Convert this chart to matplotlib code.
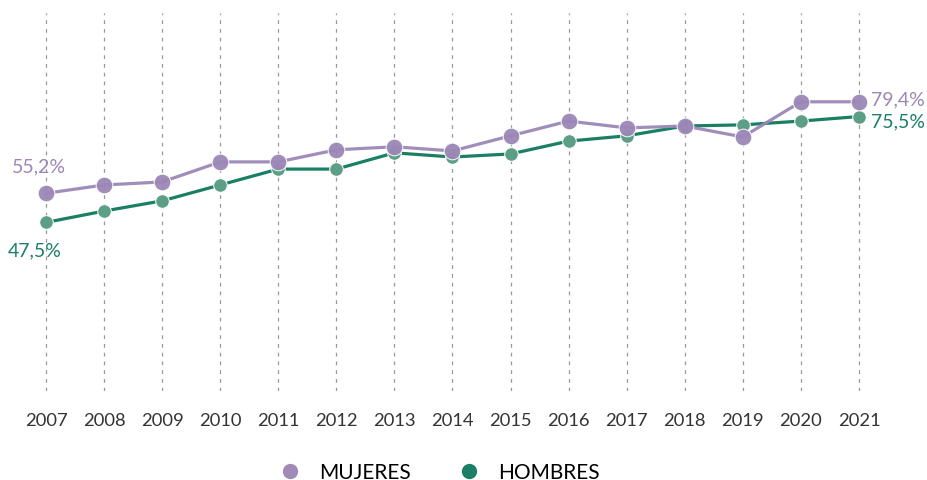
import matplotlib.pyplot as plt
from matplotlib.lines import Line2D

plt.rcParams['font.family'] = ['Lato', 'DejaVu Sans']

# -------------------------------------------------
# data
# -------------------------------------------------
years = [2007, 2008, 2009, 2010, 2011, 2012, 2013, 2014,
         2015, 2016, 2017, 2018, 2019, 2020, 2021]
mujeres = [55.2, 57.4, 58.2, 63.5, 63.5, 66.7, 67.5, 66.4,
           70.4, 74.3, 72.5, 73.0, 70.1, 79.4, 79.4]
hombres = [47.5, 50.5, 53.2, 57.4, 61.6, 61.6, 65.9, 64.8,
           65.6, 69.0, 70.4, 73.0, 73.3, 74.3, 75.5]
series_names = ["MUJERES", "HOMBRES"]

purple = "#9c87b6"
green = "#1b7f65"

fig = plt.figure(figsize=(9.28, 4.81), dpi=100)
ax = fig.add_axes([0.00577, 0.185, 0.9636, 0.786])

ax.plot(years, mujeres, color=purple, lw=2.3, alpha=0.95, zorder=3,
        marker="o", markersize=12, markerfacecolor=purple,
        markeredgecolor="white", markeredgewidth=0.7)
ax.plot(years, hombres, color=green, lw=2.3, zorder=2,
        marker="o", markersize=9.8, markerfacecolor="#5c9f86",
        markeredgecolor="white", markeredgewidth=0.7)

# etiquetas de inicio y fin
def fmt(v):
    return f"{v:.1f}".replace(".", ",") + "%"

lab = dict(textcoords="offset points", va="center", fontsize=14)
ax.annotate(fmt(mujeres[0]), (years[0], mujeres[0]), xytext=(-5, 20),
            ha="center", color=purple, **lab)
ax.annotate(fmt(hombres[0]), (years[0], hombres[0]), xytext=(-8, -20),
            ha="center", color=green, **lab)
ax.annotate(fmt(mujeres[-1]), (years[-1], mujeres[-1]), xytext=(9, 2),
            ha="left", color=purple, **lab)
ax.annotate(fmt(hombres[-1]), (years[-1], hombres[-1]), xytext=(9, -3),
            ha="left", color=green, **lab)

ax.set_xlim(2006.3, 2021.7)
ax.set_ylim(2.9, 102.9)
ax.set_xticks(years)
ax.set_xticklabels([str(y) for y in years], fontsize=13.2, color="#333333")
ax.tick_params(axis="x", length=0, pad=15)
ax.set_yticks([])
ax.grid(axis="x", color="#999999", linestyle=(0, (3, 4)), linewidth=0.9)
for s in ax.spines.values():
    s.set_visible(False)

handles = [Line2D([], [], ls="none", marker="o", markersize=10,
                  markerfacecolor=c, markeredgecolor=c)
           for c in ["#a08bb8", green]]
fig.legend(handles, series_names, loc="center", bbox_to_anchor=(0.468, 0.017),
           ncol=2, frameon=False, prop={"size": 15}, columnspacing=1.8,
           handletextpad=0.4)

plt.savefig("out.png", dpi=100)
plt.close()
